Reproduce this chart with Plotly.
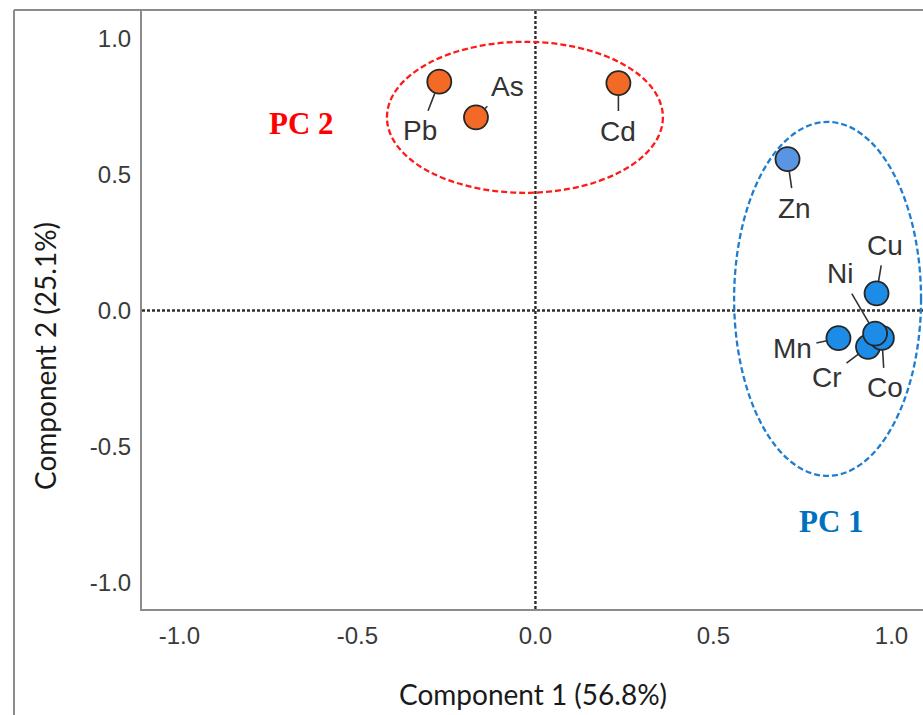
import plotly.graph_objects as go

# Rotated component loadings of the metals
elements = ["Pb", "As", "Cd", "Zn", "Cu", "Mn", "Cr", "Co", "Ni"]
component1 = [-0.270, -0.167, 0.233, 0.708, 0.958, 0.851, 0.934, 0.973, 0.954]
component2 = [0.842, 0.711, 0.837, 0.557, 0.063, -0.102, -0.134, -0.101, -0.085]
groups = ["PC2", "PC2", "PC2", "PC1", "PC1", "PC1", "PC1", "PC1", "PC1"]

x_ticks = [-1.0, -0.5, 0.0, 0.5, 1.0]
y_ticks = [-1.0, -0.5, 0.0, 0.5, 1.0]

# marker fills
fill = {"Pb": "#F26A26", "As": "#F26A26", "Cd": "#F26A26",
        "Zn": "#5A95E3"}
pc1_fill = "#1D8CE6"

# label offsets (pixels) from each marker
label_offset = {
    "Pb": (-19, 49), "As": (32, -31), "Cd": (0, 48), "Zn": (7, 49),
    "Cu": (8, -48), "Ni": (-35, -60), "Mn": (-46, 10), "Cr": (-41, 31),
    "Co": (3, 50),
}

fig = go.Figure()

fig.add_trace(go.Scatter(
    x=component1, y=component2, mode="markers",
    marker=dict(size=24,
                color=[fill.get(e, pc1_fill) for e in elements],
                line=dict(color="#262626", width=1.8)),
    hoverinfo="text", text=elements, showlegend=False,
    cliponaxis=False,
))

annotations = []
for e, x, y in zip(elements, component1, component2):
    ax, ay = label_offset[e]
    annotations.append(dict(
        x=x, y=y, xref="x", yref="y", text=e, ax=ax, ay=ay,
        showarrow=True, arrowhead=0, arrowwidth=1.6, arrowcolor="#333333",
        standoff=12, borderpad=4,
        font=dict(family="Liberation Sans, Arial", size=28, color="#333333"),
    ))

# group captions
annotations.append(dict(x=-0.657, y=0.690, xref="x", yref="y", text="<b>PC 2</b>",
                        showarrow=False,
                        font=dict(family="Liberation Serif, Times New Roman", size=31, color="#FF0000")))
annotations.append(dict(x=0.832, y=-0.777, xref="x", yref="y", text="<b>PC 1</b>",
                        showarrow=False,
                        font=dict(family="Liberation Serif, Times New Roman", size=31, color="#0070C0")))

# axis titles
annotations.append(dict(x=0.5006, y=-0.1419, xref="paper", yref="paper",
                        text="Component 1 (56.8%)", showarrow=False,
                        xanchor="center", yanchor="middle",
                        font=dict(family="Lato, Noto Sans", size=28, color="#1a1a1a")))
annotations.append(dict(x=-0.1242, y=0.4224, xref="paper", yref="paper",
                        text="Component 2 (25.1%)", showarrow=False, textangle=-90,
                        xanchor="center", yanchor="middle",
                        font=dict(family="Lato, Noto Sans", size=28, color="#1a1a1a")))

shapes = [
    # zero reference lines
    dict(type="line", xref="x", yref="paper", x0=0, x1=0, y0=0, y1=1,
         line=dict(color="#2e2e2e", width=2.4, dash="3px,2px")),
    dict(type="line", xref="paper", yref="y", x0=0, x1=1, y0=0, y1=0,
         line=dict(color="#2e2e2e", width=2.4, dash="3px,2px")),
    # group outlines
    dict(type="circle", xref="x", yref="y", x0=-0.417, x1=0.358, y0=0.433, y1=0.989,
         line=dict(color="#FF1A1A", width=2.3, dash="6px,3px")),
    dict(type="circle", xref="x", yref="y", x0=0.558, x1=1.083, y0=-0.609, y1=0.694,
         line=dict(color="#1F7DD0", width=2.3, dash="6px,3px")),
    # outer frame
    dict(type="line", xref="paper", yref="paper", x0=-0.1639, x1=1.01, y0=1, y1=1,
         line=dict(color="#8c8c8c", width=2)),
    dict(type="line", xref="paper", yref="paper", x0=-0.1639, x1=-0.1639, y0=-0.2, y1=1,
         line=dict(color="#8c8c8c", width=2)),
]

tick_font = dict(family="Liberation Sans, Arial", size=24, color="#3a3a3a")

fig.update_layout(
    width=923, height=715,
    margin=dict(l=142, r=0, t=10, b=106),
    paper_bgcolor="white", plot_bgcolor="white",
    xaxis=dict(range=[-1.105, 1.0885], tickvals=x_ticks,
               ticktext=[f"{v:.1f}" for v in x_ticks],
               showgrid=False, zeroline=False,
               showline=True, linecolor="#8c8c8c", linewidth=2,
               ticks="", ticklabelstandoff=4, tickfont=tick_font),
    yaxis=dict(range=[-1.099, 1.106], tickvals=y_ticks,
               ticktext=[f"{v:.1f}" for v in y_ticks],
               showgrid=False, zeroline=False,
               showline=True, linecolor="#8c8c8c", linewidth=2,
               ticks="", ticklabelstandoff=4, tickfont=tick_font),
    shapes=shapes, annotations=annotations,
)

fig.write_html("out.html")
